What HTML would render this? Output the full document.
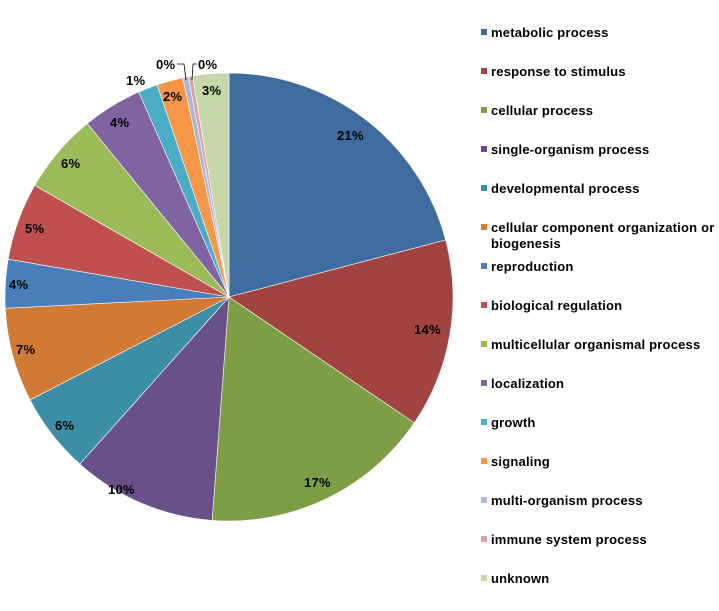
<!DOCTYPE html>
<html><head><meta charset="utf-8"><style>
body{margin:0;background:#fff;width:719px;height:606px;overflow:hidden;font-family:"Liberation Sans",Arial,sans-serif}
</style></head><body>
<svg id="s" width="719" height="606" xmlns="http://www.w3.org/2000/svg" font-family="Liberation Sans, Arial, sans-serif" font-weight="bold" font-size="13">
<g id="pie"></g>
<g fill="#000" letter-spacing="0.3">
<text x="337" y="140">21%</text>
<text x="414" y="334">14%</text>
<text x="304" y="487">17%</text>
<text x="108" y="494">10%</text>
<text x="55" y="430">6%</text>
<text x="16" y="354">7%</text>
<text x="9" y="289">4%</text>
<text x="25" y="233">5%</text>
<text x="61" y="168">6%</text>
<text x="110" y="127">4%</text>
<text x="126" y="85">1%</text>
<text x="163" y="101">2%</text>
<text x="156" y="69">0%</text>
<text x="198" y="69">0%</text>
<text x="202" y="95">3%</text>
</g>
<path d="M177,64 L184,64 L186,80 M192,80 L193,64 L197,64" stroke="#000" stroke-width="0.8" fill="none"/>
<g id="leg" font-size="13" letter-spacing="0.2"></g>
</svg>
<script>
var cx=229,cy=297,r=224;
var cum=[0,20.9,34.5,51.2,61.6,67.4,74.2,77.7,83.3,89.1,93.4,94.8,96.7,97.1,97.4,100];
var cols=["#3F6B9E","#A04341","#7E9E45","#6A5089","#3B8EA4","#D07A35","#4A7EBB","#C0504D","#9BBB59","#8064A2","#4BACC6","#F79646","#A8B8DA","#D9A3A3","#C6D7AB"];
var names=["metabolic process","response to stimulus","cellular process","single-organism process","developmental process","cellular component organization or","reproduction","biological regulation","multicellular organismal process","localization","growth","signaling","multi-organism process","immune system process","unknown"];
var ns="http://www.w3.org/2000/svg",pie=document.getElementById("pie"),leg=document.getElementById("leg");
function pt(p){var a=p/100*2*Math.PI;return [cx+r*Math.sin(a),cy-r*Math.cos(a)];}
for(var i=0;i<15;i++){
 var a=pt(cum[i]),b=pt(cum[i+1]),large=(cum[i+1]-cum[i])>50?1:0;
 var p=document.createElementNS(ns,"path");
 p.setAttribute("d","M"+cx+","+cy+" L"+a[0]+","+a[1]+" A"+r+","+r+" 0 "+large+" 1 "+b[0]+","+b[1]+" Z");
 p.setAttribute("fill",cols[i]);p.setAttribute("stroke","#fff");p.setAttribute("stroke-width","0.6");
 pie.appendChild(p);
 var y=33+i*39;
 var rc=document.createElementNS(ns,"rect");
 rc.setAttribute("x",481);rc.setAttribute("y",y-4);rc.setAttribute("width",6);rc.setAttribute("height",6);rc.setAttribute("fill",cols[i]);
 leg.appendChild(rc);
 var t=document.createElementNS(ns,"text");t.setAttribute("x",491);t.setAttribute("y",y+4);t.textContent=names[i];leg.appendChild(t);
 if(i==5){var t2=document.createElementNS(ns,"text");t2.setAttribute("x",491);t2.setAttribute("y",y+20);t2.textContent="biogenesis";leg.appendChild(t2);}
}
</script>
</body></html>
